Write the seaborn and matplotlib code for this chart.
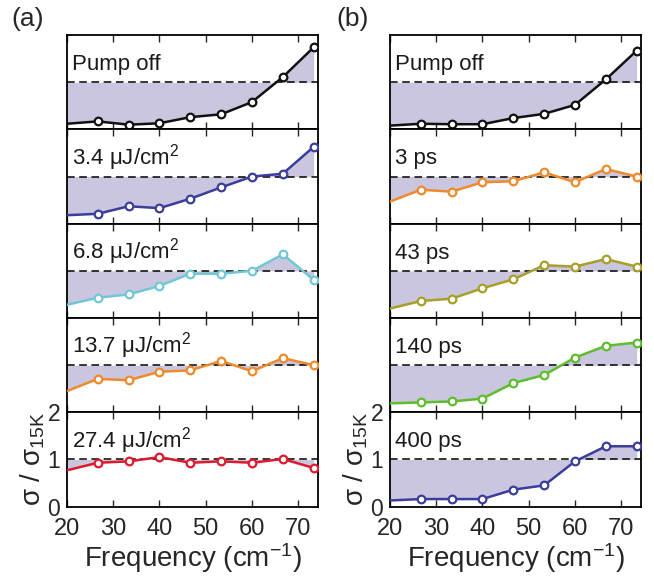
import matplotlib
matplotlib.use("Agg")
import matplotlib.pyplot as plt
import seaborn as sns

# Frequency grid (cm^-1); first point sits on the left edge, no marker
freq = [20.0, 26.67, 33.33, 40.0, 46.67, 53.33, 60.0, 66.67, 73.33]

# (a) fluence dependence
pump_off_a = [0.12, 0.17, 0.10, 0.13, 0.26, 0.32, 0.58, 1.11, 1.74]
fluence_3p4 = [0.18, 0.21, 0.37, 0.33, 0.53, 0.77, 1.00, 1.06, 1.63]
fluence_6p8 = [0.28, 0.43, 0.50, 0.68, 0.94, 0.94, 1.00, 1.35, 0.81]
fluence_13p7 = [0.45, 0.71, 0.68, 0.86, 0.89, 1.09, 0.87, 1.15, 1.00]
fluence_27p4 = [0.77, 0.93, 0.96, 1.05, 0.93, 0.96, 0.93, 1.01, 0.82]
labels_a = ["Pump off", "3.4 μJ/cm$^2$", "6.8 μJ/cm$^2$",
            "13.7 μJ/cm$^2$", "27.4 μJ/cm$^2$"]
colors_a = ["#111111", "#3b3d9c", "#72c7d5", "#ef8a2c", "#e0192d"]

# (b) time-delay dependence
pump_off_b = [0.08, 0.12, 0.11, 0.11, 0.24, 0.33, 0.52, 1.06, 1.67]
delay_3ps = [0.47, 0.72, 0.68, 0.88, 0.90, 1.09, 0.88, 1.16, 1.00]
delay_43ps = [0.20, 0.36, 0.41, 0.63, 0.82, 1.12, 1.09, 1.25, 1.09]
delay_140ps = [0.19, 0.21, 0.23, 0.29, 0.62, 0.79, 1.16, 1.41, 1.48]
delay_400ps = [0.13, 0.16, 0.16, 0.16, 0.36, 0.45, 0.96, 1.28, 1.28]
labels_b = ["Pump off", "3 ps", "43 ps", "140 ps", "400 ps"]
colors_b = ["#111111", "#ef8a2c", "#a89e28", "#5dbd2c", "#3b3d9c"]

series_a = [pump_off_a, fluence_3p4, fluence_6p8, fluence_13p7, fluence_27p4]
series_b = [pump_off_b, delay_3ps, delay_43ps, delay_140ps, delay_400ps]

fill_color = "#cac6e0"

sns.set_style("ticks")
plt.rcParams['font.family'] = ['Liberation Sans', 'DejaVu Sans']
plt.rcParams['mathtext.fontset'] = 'custom'
plt.rcParams['mathtext.rm'] = 'Liberation Sans'
plt.rcParams['mathtext.it'] = 'Liberation Sans:italic'
plt.rcParams['mathtext.default'] = 'regular'

fig = plt.figure(figsize=(6.54, 5.85), dpi=100)

bottom, top = 0.134, 0.940
h = (top - bottom) / 5
columns = [(0.1024, series_a, labels_a, colors_a, "(a)", 0.018),
           (0.5963, series_b, labels_b, colors_b, "(b)", 0.514)]

for left, series, labels, colors, tag, tag_x in columns:
    for i, (vals, lab, c) in enumerate(zip(series, labels, colors)):
        ax = fig.add_axes([left, top - (i + 1) * h, 0.384, h])
        ax.fill_between(freq, vals, 1, color=fill_color, lw=0, zorder=1)
        ax.axhline(1, color="k", ls=(0, (5, 3)), lw=1.1, zorder=2)
        sns.lineplot(x=freq, y=vals, ax=ax, color=c, lw=1.8, zorder=3,
                     marker="o", markersize=5.5, markerfacecolor="white",
                     markeredgecolor=c, markeredgewidth=1.6,
                     markevery=list(range(1, len(freq))))
        ax.text(0.02, 0.63, lab, transform=ax.transAxes, fontsize=16,
                va="baseline", ha="left", color="#1a1a1a")
        ax.set_xlim(20, 74.3)
        ax.set_ylim(0, 2)
        ax.set_xticks([20, 30, 40, 50, 60, 70])
        ax.tick_params(axis="x", direction="in", top=True, length=5, width=1,
                       labelsize=17, pad=8)
        for sp in ax.spines.values():
            sp.set_linewidth(1.3)
            sp.set_color("k")
        if i < 4:
            ax.set_xticklabels([])
            ax.set_yticks([])
        else:
            ax.set_yticks([0, 1, 2])
            ax.tick_params(axis="y", length=0, labelsize=16.5, pad=5)
            ax.set_xlabel("Frequency (cm$^{-1}$)", fontsize=20, labelpad=1)
            ax.set_ylabel("σ / σ$_{15K}$", fontsize=20, labelpad=0)
    fig.text(tag_x, 0.968, tag, fontsize=19, va="center", ha="left")

fig.savefig("out.png", dpi=100)
